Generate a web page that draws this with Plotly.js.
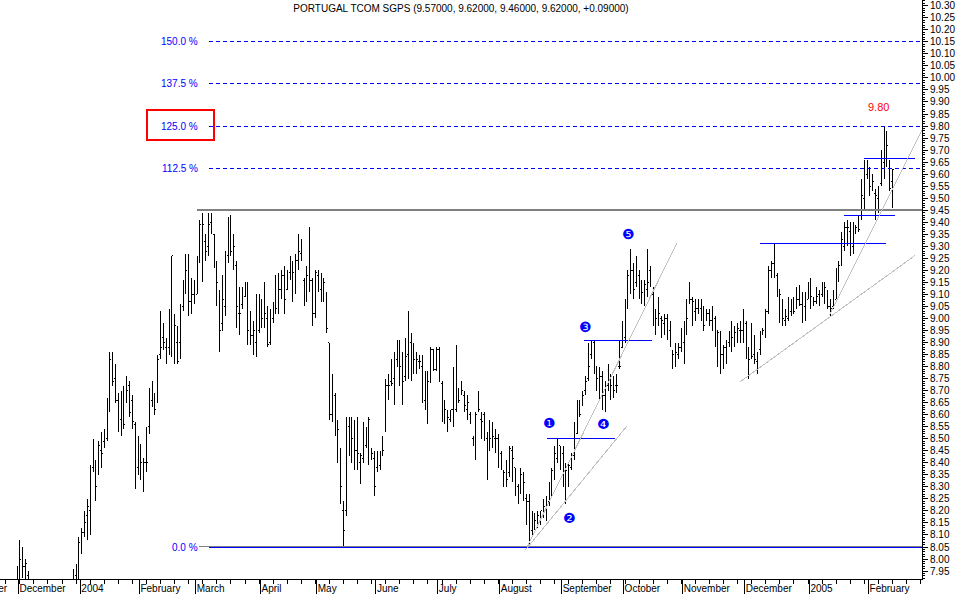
<!DOCTYPE html>
<html><head><meta charset="utf-8">
<script src="https://cdn.plot.ly/plotly-3.0.1.min.js"></script>
<style>html,body{margin:0;padding:0;background:#fff}#chart{width:964px;height:595px}
#chart .ohlclayer path{shape-rendering:crispEdges}
#chart .shapelayer path{shape-rendering:crispEdges}
</style>
</head><body><div id="chart"></div>
<script>
// Daily OHLC, Portugal Telecom SGPS, Dec 2003 - Feb 2005 (trading-day index)
const open=[7.90,7.95,8.00,7.97,7.93,7.86,7.82,7.84,7.79,7.76,
7.78,7.72,7.77,7.73,7.71,7.76,7.79,7.82,7.80,7.85,
7.88,7.93,7.95,8.05,8.11,8.18,8.20,8.38,8.40,8.36,
8.45,8.49,8.50,8.65,8.80,8.75,8.66,8.58,8.68,8.67,
8.72,8.66,8.56,8.38,8.44,8.40,8.40,8.55,8.66,8.66,
8.65,8.85,8.92,8.88,8.88,9.00,9.00,8.90,8.90,9.05,
9.12,9.15,9.07,9.10,9.10,9.25,9.35,9.32,9.30,9.40,
9.35,9.20,9.10,8.98,9.05,9.26,9.29,9.30,9.22,9.02,
9.06,9.09,9.14,8.98,8.93,8.90,8.95,9.05,8.98,9.00,
8.90,9.00,9.03,9.04,9.12,9.18,9.12,9.19,9.20,9.18,
9.24,9.27,9.16,9.10,9.18,9.16,9.02,9.18,9.12,9.14,
9.10,8.90,8.60,8.68,8.52,8.44,8.20,8.20,8.55,8.50,
8.55,8.45,8.40,8.42,8.47,8.50,8.44,8.42,8.38,8.39,
8.45,8.55,8.72,8.74,8.75,8.83,8.85,8.80,8.76,8.85,
8.90,8.82,8.80,8.82,8.80,8.66,8.72,8.74,8.87,8.79,
8.87,8.73,8.62,8.60,8.58,8.62,8.62,8.66,8.70,8.68,
8.62,8.60,8.50,8.50,8.68,8.58,8.60,8.50,8.48,8.52,
8.50,8.50,8.44,8.36,8.36,8.36,8.45,8.38,8.30,8.30,
8.34,8.25,8.24,8.12,8.14,8.15,8.15,8.18,8.20,8.24,
8.28,8.36,8.42,8.47,8.44,8.33,8.36,8.38,8.43,8.52,
8.62,8.64,8.70,8.75,8.85,8.90,8.80,8.75,8.76,8.68,
8.72,8.70,8.72,8.72,8.80,8.88,8.92,9.08,9.15,9.20,
9.15,9.18,9.12,9.10,9.12,9.20,9.10,9.02,8.98,9.00,
8.98,9.00,8.95,8.85,8.82,8.85,8.88,8.90,8.96,9.08,
9.08,9.03,9.04,9.04,9.03,8.99,9.02,8.99,9.00,8.95,
8.90,8.85,8.88,8.90,8.92,8.92,8.94,8.95,8.95,8.98,
8.87,8.84,8.85,8.82,8.87,8.94,8.95,9.03,9.20,9.23,
9.18,9.12,9.05,8.99,9.00,9.03,9.04,9.04,9.08,9.06,
9.05,9.08,9.12,9.08,9.07,9.10,9.10,9.12,9.10,9.05,
9.05,9.08,9.18,9.22,9.30,9.38,9.36,9.30,9.36,9.37,
9.43,9.50,9.60,9.60,9.56,9.52,9.50,9.56,9.65,9.72,
9.62,9.57];
const high=[7.97,8.08,8.05,8.00,7.95,7.88,7.86,7.85,7.82,7.80,
7.79,7.80,7.78,7.76,7.78,7.81,7.84,7.86,7.87,7.89,
7.96,7.98,8.09,8.13,8.20,8.25,8.39,8.50,8.41,8.49,
8.53,8.54,8.67,8.86,8.86,8.81,8.69,8.70,8.72,8.76,
8.74,8.68,8.57,8.51,8.48,8.42,8.55,8.71,8.74,8.69,
8.85,9.03,8.98,8.92,9.04,9.26,9.02,8.97,9.06,9.16,
9.27,9.27,9.17,9.16,9.26,9.41,9.44,9.35,9.44,9.44,
9.35,9.24,9.12,9.18,9.28,9.42,9.43,9.35,9.24,9.13,
9.13,9.15,9.15,9.03,8.99,9.10,9.10,9.08,9.15,9.05,
9.04,9.07,9.18,9.19,9.20,9.22,9.20,9.26,9.24,9.27,
9.35,9.33,9.17,9.22,9.38,9.17,9.20,9.20,9.19,9.17,
9.11,8.90,8.77,8.69,8.58,8.46,8.24,8.59,8.59,8.59,
8.58,8.59,8.44,8.57,8.55,8.59,8.46,8.45,8.45,8.45,
8.51,8.75,8.77,8.83,8.86,8.91,8.91,8.86,8.92,9.03,
8.94,8.90,8.86,8.85,8.85,8.78,8.78,8.88,8.87,8.88,
8.88,8.74,8.66,8.62,8.62,8.80,8.89,8.71,8.74,8.70,
8.68,8.61,8.51,8.61,8.70,8.61,8.61,8.53,8.58,8.57,
8.54,8.52,8.45,8.37,8.41,8.47,8.47,8.38,8.31,8.38,
8.36,8.27,8.27,8.20,8.19,8.20,8.20,8.25,8.26,8.32,
8.38,8.47,8.50,8.47,8.47,8.40,8.40,8.44,8.57,8.66,
8.66,8.70,8.76,8.90,8.91,8.91,8.80,8.80,8.78,8.74,
8.81,8.77,8.76,8.77,8.91,8.99,9.08,9.20,9.29,9.23,
9.26,9.20,9.16,9.16,9.29,9.22,9.13,9.04,9.09,9.01,
9.02,9.02,8.99,8.87,8.90,8.90,8.96,8.99,9.08,9.15,
9.09,9.08,9.08,9.08,9.05,9.04,9.04,9.05,9.01,8.95,
8.95,8.89,8.91,8.95,8.99,8.97,8.98,8.99,9.04,8.99,
8.88,8.98,8.93,8.86,8.95,8.96,9.04,9.22,9.24,9.31,
9.19,9.12,9.08,9.04,9.09,9.08,9.09,9.13,9.14,9.11,
9.11,9.15,9.17,9.09,9.13,9.12,9.15,9.15,9.12,9.08,
9.12,9.21,9.24,9.36,9.40,9.41,9.40,9.40,9.39,9.43,
9.58,9.66,9.66,9.63,9.60,9.54,9.55,9.70,9.80,9.78,
9.66,9.62];
const low=[7.85,7.90,7.92,7.90,7.85,7.80,7.78,7.76,7.74,7.72,
7.70,7.70,7.71,7.68,7.69,7.73,7.76,7.78,7.78,7.81,
7.85,7.88,7.90,8.02,8.09,8.08,8.10,8.36,8.24,8.35,
8.38,8.46,8.49,8.61,8.72,8.65,8.53,8.51,8.54,8.65,
8.59,8.54,8.29,8.35,8.33,8.28,8.36,8.52,8.63,8.60,
8.65,8.83,8.87,8.81,8.85,8.84,8.81,8.81,8.83,9.03,
9.10,9.01,9.02,9.06,9.10,9.23,9.15,9.24,9.26,9.35,
9.21,9.05,8.86,8.95,9.01,9.23,9.26,9.20,8.96,8.93,
9.04,9.09,8.89,8.89,8.85,8.84,8.94,8.96,8.96,8.88,
8.89,8.98,9.02,9.02,9.08,9.02,9.12,9.16,9.07,9.10,
9.20,9.24,9.05,9.07,9.11,8.97,9.00,9.11,9.07,9.07,
8.94,8.58,8.57,8.51,8.40,8.23,8.05,8.18,8.43,8.40,
8.37,8.37,8.31,8.40,8.46,8.39,8.41,8.26,8.36,8.37,
8.43,8.53,8.66,8.72,8.64,8.80,8.72,8.64,8.74,8.75,
8.74,8.77,8.77,8.79,8.65,8.62,8.56,8.73,8.78,8.78,
8.74,8.57,8.56,8.53,8.57,8.55,8.61,8.65,8.68,8.61,
8.58,8.56,8.47,8.41,8.61,8.50,8.49,8.33,8.45,8.46,
8.44,8.38,8.37,8.30,8.30,8.34,8.32,8.26,8.23,8.27,
8.24,8.14,8.06,8.10,8.12,8.13,8.14,8.17,8.16,8.22,
8.26,8.33,8.40,8.37,8.30,8.23,8.30,8.37,8.41,8.52,
8.59,8.64,8.68,8.74,8.83,8.77,8.70,8.66,8.62,8.61,
8.70,8.66,8.67,8.69,8.79,8.88,8.90,9.04,9.10,9.08,
9.13,9.08,9.06,9.05,9.09,9.13,8.97,8.93,8.97,8.92,
8.93,8.91,8.88,8.79,8.80,8.83,8.86,8.81,8.93,9.06,
8.97,8.99,9.02,8.99,8.95,8.99,8.97,8.95,8.88,8.80,
8.77,8.79,8.81,8.88,8.86,8.88,8.90,8.90,8.90,8.83,
8.75,8.83,8.81,8.77,8.85,8.93,8.92,9.02,9.17,9.17,
9.09,8.98,8.97,8.97,8.99,9.01,9.02,9.04,9.05,8.98,
8.99,9.08,9.04,9.05,9.06,9.05,9.09,9.06,9.04,9.01,
9.04,9.08,9.15,9.22,9.28,9.30,9.26,9.27,9.35,9.36,
9.41,9.45,9.58,9.51,9.53,9.41,9.44,9.55,9.58,9.63,
9.53,9.46];
const close=[7.95,8.00,7.97,7.98,7.88,7.82,7.84,7.79,7.76,7.78,
7.72,7.77,7.73,7.71,7.76,7.79,7.82,7.80,7.85,7.87,
7.94,7.97,8.07,8.11,8.15,8.22,8.38,8.48,8.30,8.47,
8.44,8.50,8.65,8.83,8.74,8.66,8.56,8.68,8.56,8.70,
8.61,8.57,8.31,8.41,8.40,8.40,8.40,8.66,8.67,8.62,
8.83,8.88,8.90,8.85,9.00,9.26,8.97,8.82,9.03,9.14,
9.20,9.07,9.10,9.09,9.22,9.39,9.39,9.28,9.39,9.36,
9.27,9.15,8.95,9.08,9.27,9.27,9.28,9.30,9.05,9.02,
9.10,9.14,8.95,8.93,8.95,8.91,9.06,9.00,9.02,8.89,
9.00,9.04,9.04,9.12,9.18,9.08,9.19,9.22,9.19,9.24,
9.28,9.27,9.10,9.18,9.16,9.02,9.19,9.12,9.14,9.15,
8.96,8.60,8.69,8.52,8.54,8.30,8.12,8.57,8.50,8.50,
8.45,8.44,8.43,8.41,8.50,8.58,8.44,8.30,8.39,8.39,
8.45,8.72,8.72,8.73,8.84,8.89,8.80,8.74,8.84,8.91,
8.80,8.83,8.83,8.82,8.66,8.73,8.74,8.87,8.79,8.87,
8.74,8.62,8.62,8.59,8.62,8.55,8.62,8.66,8.70,8.64,
8.65,8.57,8.50,8.60,8.62,8.57,8.50,8.34,8.50,8.51,
8.50,8.44,8.39,8.36,8.33,8.46,8.42,8.30,8.26,8.35,
8.32,8.24,8.25,8.16,8.16,8.18,8.20,8.22,8.23,8.31,
8.37,8.44,8.50,8.44,8.35,8.37,8.39,8.43,8.50,8.62,
8.60,8.68,8.74,8.80,8.90,8.85,8.75,8.76,8.68,8.72,
8.72,8.72,8.70,8.72,8.80,8.88,9.07,9.18,9.20,9.12,
9.23,9.13,9.11,9.14,9.15,9.18,9.04,9.00,9.02,8.99,
9.00,8.96,8.91,8.85,8.86,8.88,8.91,8.98,9.00,9.08,
9.07,9.04,9.05,9.05,8.97,9.02,8.99,9.02,9.00,8.94,
8.85,8.88,8.89,8.93,8.92,8.94,8.96,8.95,8.97,8.91,
8.83,8.84,8.83,8.83,8.94,8.95,9.03,9.20,9.23,9.30,
9.15,9.10,9.00,9.01,9.04,9.04,9.03,9.08,9.06,9.09,
9.06,9.11,9.09,9.07,9.09,9.07,9.13,9.13,9.05,9.04,
9.07,9.20,9.22,9.33,9.38,9.38,9.33,9.38,9.38,9.37,
9.51,9.58,9.61,9.55,9.57,9.51,9.53,9.65,9.74,9.72,
9.54,9.62];

// Month axis labels and the trading-day index where each month starts
const monthLabels=['December','2004','February','March','April','May','June','July','August','September','October','November','December','2005','February'];
const monthStartIdx=[1,23,44,64,87,107,128,150,172,194,216,237,259,282,303];

// Fibonacci extension levels (0% = 8.05 low, 100% = 9.45 high)
const fibBase=8.05, fibTop=9.45;
const fibRatios=[0,1.125,1.25,1.375,1.5];

// Drawn blue resistance lines
const resLevel=[8.50,8.91,9.31,9.43,9.665];
const resFrom=[188.3,201.4,263.9,293.8,300.9];
const resTo=[212.4,225.6,308.7,311.9,319.0];

// Drawn grey trend lines
const trendFromIdx=[180.6,181.2,256.9,288.7];
const trendFromPrice=[8.0375,8.051,8.737,9.015];
const trendToIdx=[216.7,234.5,318.9,322.2];
const trendToPrice=[8.553,9.315,9.261,9.80];

// Elliott wave counts
const waveLabels=['\u2776','\u2777','\u2778','\u2779','\u277A'];
const waveIdx=[189.3,196.1,202.1,208.5,217.1];
const wavePrice=[8.566,8.171,8.965,8.561,9.351];

const titleText='PORTUGAL TCOM SGPS (9.57000, 9.62000, 9.46000, 9.62000, +0.09000)';

const x=open.map((_,i)=>i);
const XMIN=-6.04, XMAX=321.5;
const FONT='Liberation Sans, Arial, sans-serif';

const trace={type:'ohlc',x:x,open:open,high:high,low:low,close:close,
  increasing:{line:{color:'#000000',width:1}},
  decreasing:{line:{color:'#000000',width:1}},
  tickwidth:0.4,hoverinfo:'none',showlegend:false};

const shapes=[];
const annotations=[];
shapes.push({type:'line',xref:'x',yref:'y',x0:63.9,x1:XMAX,y0:fibTop,y1:fibTop,line:{color:'#808080',width:2}});
shapes.push({type:'line',xref:'x',yref:'y',x0:64.6,x1:XMAX,y0:fibBase+0.003,y1:fibBase+0.003,line:{color:'#808080',width:1}});
fibRatios.forEach(r=>{
  const lvl=fibBase+r*(fibTop-fibBase);
  if(r===0){
    shapes.push({type:'line',xref:'x',yref:'y',x0:68.2,x1:XMAX,y0:lvl-0.002,y1:lvl-0.002,line:{color:'#0000ff',width:1}});
  } else {
    shapes.push({type:'line',xref:'x',yref:'y',x0:68.2,x1:XMAX,y0:lvl,y1:lvl,line:{color:'#0000ff',width:1,dash:'4px,3px'}});
  }
  annotations.push({xref:'x',yref:'y',x:65.0,y:lvl,text:(r*100).toFixed(1)+' %',showarrow:false,xanchor:'right',yanchor:'middle',
    font:{family:FONT,size:10,color:'#0000ff'}});
});
resLevel.forEach((lv,k)=>{
  shapes.push({type:'line',xref:'x',yref:'y',x0:resFrom[k],x1:resTo[k],y0:lv,y1:lv,line:{color:'#0000ff',width:1}});
});
trendFromIdx.forEach((a,k)=>{
  shapes.push({type:'line',xref:'x',yref:'y',x0:a,x1:trendToIdx[k],y0:trendFromPrice[k],y1:trendToPrice[k],line:{color:'#c0c0c0',width:1}});
});
shapes.push({type:'rect',xref:'x',yref:'y',x0:46.1,x1:70.0,y0:9.742,y1:9.867,line:{color:'#ff0000',width:2},fillcolor:'rgba(0,0,0,0)'});

waveLabels.forEach((t,k)=>{
  annotations.push({xref:'x',yref:'y',x:waveIdx[k],y:wavePrice[k],text:t,showarrow:false,xanchor:'center',yanchor:'middle',
    font:{family:'DejaVu Sans',size:14,color:'#0000ff'}});
});
annotations.push({xref:'x',yref:'y',x:306.2,y:9.88,text:'9.80',showarrow:false,xanchor:'center',yanchor:'middle',
  font:{family:FONT,size:11,color:'#ff0000'}});
annotations.push({xref:'paper',yref:'paper',x:10/922,y:-0.016,text:'November',showarrow:false,xanchor:'right',yanchor:'middle',
  font:{family:FONT,size:10,color:'#000000'}});

const layout={
  width:964,height:595,
  margin:{l:0,r:42,t:0,b:16,pad:0},
  paper_bgcolor:'#ffffff',plot_bgcolor:'#ffffff',
  showlegend:false,
  title:{text:titleText,font:{family:FONT,size:10,color:'#000000'},x:0.5,xref:'paper',xanchor:'center',y:1-8/595,yref:'container',yanchor:'middle'},
  xaxis:{type:'linear',range:[XMIN,XMAX],rangeslider:{visible:false},
    tickmode:'array',tickvals:monthStartIdx.map(v=>v-0.5),ticktext:monthLabels,
    ticks:'outside',ticklen:14,tickwidth:1,tickcolor:'#000000',
    ticklabelposition:'outside right',ticklabelstandoff:0,
    showline:true,linecolor:'#000000',linewidth:1,showgrid:false,zeroline:false,
    tickfont:{family:FONT,size:10,color:'#000000'},
    minor:{tickmode:'linear',tick0:1,dtick:5,ticks:'outside',ticklen:4,tickwidth:1,tickcolor:'#000000',showgrid:false},
    fixedrange:true},
  yaxis:{side:'right',range:[7.917,10.324],tickmode:'linear',tick0:7.95,dtick:0.05,tickformat:'.2f',
    ticks:'outside',ticklen:5,tickwidth:1,tickcolor:'#000000',
    showline:true,linecolor:'#000000',linewidth:1,showgrid:false,zeroline:false,
    tickfont:{family:FONT,size:10,color:'#000000'},
    minor:{tickmode:'linear',tick0:7.95,dtick:0.01,ticks:'outside',ticklen:2,tickwidth:1,tickcolor:'#000000',showgrid:false},
    fixedrange:true},
  shapes:shapes,annotations:annotations
};
Plotly.newPlot('chart',[trace],layout,{staticPlot:true,displayModeBar:false});
</script></body></html>
